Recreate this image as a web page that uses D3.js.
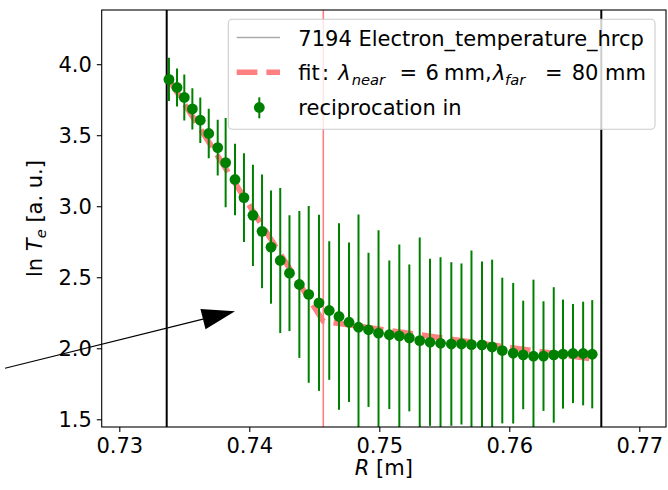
<!DOCTYPE html>
<html>
<head>
<meta charset="utf-8">
<script src="https://cdn.jsdelivr.net/npm/d3@7"></script>
<style>
  body { margin: 0; background: #fff; }
  svg { display: block; font-family: "DejaVu Sans", sans-serif; }
</style>
</head>
<body>
<div id="chart"></div>
<script>
// measured major radius [m] of each reciprocation sample
const radius = [
  0.73382, 0.73444, 0.73500, 0.73562, 0.73623, 0.73688, 0.73757, 0.73818, 0.73890, 0.73959,
  0.74028, 0.74098, 0.74167, 0.74238, 0.74309, 0.74385, 0.74457, 0.74536, 0.74615, 0.74690,
  0.74767, 0.74840, 0.74917, 0.74994, 0.75077, 0.75154, 0.75231, 0.75311, 0.75390, 0.75471,
  0.75554, 0.75632, 0.75709, 0.75790, 0.75868, 0.75946, 0.76030, 0.76107, 0.76186, 0.76263,
  0.76342, 0.76413, 0.76490, 0.76568, 0.76638,
];
// ln Te [a.u.]
const lnTe = [
  3.893, 3.836, 3.766, 3.685, 3.606, 3.512, 3.413, 3.307, 3.188, 3.061,
  2.936, 2.823, 2.712, 2.618, 2.529, 2.449, 2.379, 2.320, 2.266, 2.224,
  2.183, 2.148, 2.130, 2.106, 2.095, 2.087, 2.073, 2.054, 2.042, 2.035,
  2.030, 2.030, 2.026, 2.024, 2.009, 1.984, 1.965, 1.953, 1.944, 1.945,
  1.953, 1.959, 1.963, 1.963, 1.958,
];
// symmetric error bar half-length
const lnTeErr = [
  0.153, 0.134, 0.162, 0.145, 0.160, 0.174, 0.196, 0.315, 0.251, 0.312,
  0.356, 0.400, 0.398, 0.511, 0.408, 0.517, 0.622, 0.620, 0.488, 0.657,
  0.561, 0.793, 0.543, 0.724, 0.523, 0.644, 0.517, 0.726, 0.588, 0.606,
  0.576, 0.567, 0.663, 0.587, 0.615, 0.513, 0.495, 0.382, 0.539, 0.386,
  0.477, 0.384, 0.349, 0.365, 0.381,
];

// two-slope fit (near / far SOL), kink at the separatrix
const fitR = [0.73382, 0.74569, 0.76638];
const fitLnTe = [3.891, 2.190, 1.925];

// vertical markers
const limitLines = [0.733646, 0.767077];
const separatrix = 0.745692;

// annotation arrow (tail, tip) in data coords
const arrowTail = [0.721208, 1.859];
const arrowTip = [0.7389, 2.261];

const xTicks = [0.73, 0.74, 0.75, 0.76, 0.77];
const yTicks = [1.5, 2.0, 2.5, 3.0, 3.5, 4.0];
const xDomain = [0.728646, 0.772054];
const yDomain = [1.4457, 4.3815];

class ProfilePlot {
  constructor(_config) {
    this.config = {
      parentElement: _config.parentElement,
      containerWidth: 668,
      containerHeight: 490,
      margin: { top: 10, right: 2, bottom: 63, left: 101.7 },
      fontSize: 21,
      subSize: 14.7,
    };
    this.initVis();
  }

  initVis() {
    let vis = this;
    const cfg = vis.config;
    vis.width = cfg.containerWidth - cfg.margin.left - cfg.margin.right;
    vis.height = cfg.containerHeight - cfg.margin.top - cfg.margin.bottom;

    vis.svg = d3.select(cfg.parentElement).append("svg")
      .attr("width", cfg.containerWidth)
      .attr("height", cfg.containerHeight);

    vis.xScale = d3.scaleLinear().domain(xDomain).range([0, vis.width]);
    vis.yScale = d3.scaleLinear().domain(yDomain).range([vis.height, 0]);

    vis.chartArea = vis.svg.append("g")
      .attr("transform", `translate(${cfg.margin.left},${cfg.margin.top})`);

    vis.chartArea.append("defs").append("clipPath")
      .attr("id", "plot-clip")
      .append("rect")
      .attr("width", vis.width)
      .attr("height", vis.height);

    vis.chart = vis.chartArea.append("g").attr("clip-path", "url(#plot-clip)");

    vis.renderVis();
  }

  renderVis() {
    let vis = this;
    const cfg = vis.config;
    const x = vis.xScale, y = vis.yScale;

    // black limit lines and separatrix
    vis.chart.selectAll(".limit")
      .data(limitLines)
      .join("line")
      .attr("class", "limit")
      .attr("x1", d => x(d)).attr("x2", d => x(d))
      .attr("y1", 0).attr("y2", vis.height)
      .attr("stroke", "#000")
      .attr("stroke-width", 2);

    vis.chart.append("line")
      .attr("x1", x(separatrix)).attr("x2", x(separatrix))
      .attr("y1", 0).attr("y2", vis.height)
      .attr("stroke", "#ff8080")
      .attr("stroke-width", 1.6);

    // fit
    const fitData = fitR.map((r, i) => [r, fitLnTe[i]]);
    vis.chart.append("path")
      .datum(fitData)
      .attr("fill", "none")
      .attr("stroke", "#ff8080")
      .attr("stroke-width", 5.6)
      .attr("stroke-dasharray", "20.7,9")
      .attr("d", d3.line().x(d => x(d[0])).y(d => y(d[1])));

    const pts = radius.map((r, i) => ({ r: r, v: lnTe[i], e: lnTeErr[i] }));

    vis.chart.selectAll(".errbar")
      .data(pts)
      .join("line")
      .attr("class", "errbar")
      .attr("x1", d => x(d.r)).attr("x2", d => x(d.r))
      .attr("y1", d => y(d.v + d.e)).attr("y2", d => y(d.v - d.e))
      .attr("stroke", "#008000")
      .attr("stroke-width", 2);

    vis.chart.selectAll(".pt")
      .data(pts)
      .join("circle")
      .attr("class", "pt")
      .attr("cx", d => x(d.r)).attr("cy", d => y(d.v))
      .attr("r", 5.4)
      .attr("fill", "#008000");

    // axes
    const xAxis = d3.axisBottom(x).tickValues(xTicks).tickFormat(d3.format(".2f"))
      .tickSize(4.9).tickPadding(5);
    const yAxis = d3.axisLeft(y).tickValues(yTicks).tickFormat(d3.format(".1f"))
      .tickSize(4.9).tickPadding(5);

    const xAxisG = vis.chartArea.append("g")
      .attr("transform", `translate(0,${vis.height})`)
      .call(xAxis);
    const yAxisG = vis.chartArea.append("g").call(yAxis);

    [xAxisG, yAxisG].forEach(g => {
      g.select(".domain").remove();
      g.selectAll(".tick line").attr("stroke", "#000").attr("stroke-width", 1.1);
      g.selectAll(".tick text")
        .attr("fill", "#000")
        .style("font-family", "DejaVu Sans")
        .style("font-size", cfg.fontSize + "px");
    });
    xAxisG.selectAll(".tick text").attr("dy", "0.76em");
    yAxisG.selectAll(".tick text").attr("dy", "0.36em");

    // frame
    vis.chartArea.append("rect")
      .attr("width", vis.width).attr("height", vis.height)
      .attr("fill", "none")
      .attr("stroke", "#000")
      .attr("stroke-width", 1.1);

    // axis labels
    const xl = vis.chartArea.append("text")
      .attr("x", vis.width / 2)
      .attr("y", vis.height + 48)
      .attr("text-anchor", "middle")
      .style("font-size", cfg.fontSize + "px");
    xl.append("tspan").style("font-style", "italic").text("R");
    xl.append("tspan").text(" [m]");

    const yl = vis.svg.append("text")
      .attr("transform", `translate(42,${cfg.margin.top + vis.height / 2}) rotate(-90)`)
      .attr("text-anchor", "middle")
      .style("font-size", cfg.fontSize + "px");
    yl.append("tspan").text("ln ");
    yl.append("tspan").style("font-style", "italic").text("T");
    yl.append("tspan").style("font-style", "italic").style("font-size", cfg.subSize + "px")
      .attr("dy", 4).text("e");
    yl.append("tspan").attr("dy", -4).text(" [a. u.]");

    vis.renderLegend();
    vis.renderArrow();
  }

  renderLegend() {
    let vis = this;
    const fs = vis.config.fontSize;
    const ss = vis.config.subSize;
    const lg = vis.svg.append("g");

    lg.append("rect")
      .attr("x", 228.3).attr("y", 19.3)
      .attr("width", 426.7).attr("height", 110)
      .attr("rx", 4)
      .attr("fill", "#fff").attr("fill-opacity", 0.8)
      .attr("stroke", "#cccccc").attr("stroke-width", 1.1);

    // row 1: grey line
    lg.append("line")
      .attr("x1", 236.7).attr("x2", 280).attr("y1", 37.5).attr("y2", 37.5)
      .attr("stroke", "#aaaaaa").attr("stroke-width", 1.5);
    lg.append("text")
      .attr("x", 298.3).attr("y", 45.5)
      .style("font-size", fs + "px")
      .text("7194 Electron_temperature_hrcp");

    // row 2: fit
    lg.append("line")
      .attr("x1", 236.7).attr("x2", 280).attr("y1", 72.3).attr("y2", 72.3)
      .attr("stroke", "#ff8080").attr("stroke-width", 5.6)
      .attr("stroke-dasharray", "20.7,9");
    const t2 = lg.append("text").attr("y", 80.3).style("font-size", fs + "px");
    const parts = [
      { x: 298.3, t: "fit" },
      { x: 322, t: ":" },
      { x: 338.3, t: "λ", it: true },
      { x: 351.7, t: "near", it: true, sub: true },
      { x: 399.5, t: "=" },
      { x: 425.5, t: "6" },
      { x: 444, t: "mm," },
      { x: 493, t: "λ", it: true },
      { x: 505, t: "far", it: true, sub: true },
      { x: 545, t: "=" },
      { x: 571.7, t: "80 mm" },
    ];
    parts.forEach(p => {
      t2.append("tspan")
        .attr("x", p.x)
        .attr("y", p.sub ? 84.5 : 80.3)
        .style("font-style", p.it ? "italic" : "normal")
        .style("font-size", p.sub ? ss + "px" : fs + "px")
        .text(p.t);
    });

    // row 3: errorbar marker
    lg.append("line")
      .attr("x1", 259.3).attr("x2", 259.3).attr("y1", 97.3).attr("y2", 118.3)
      .attr("stroke", "#008000").attr("stroke-width", 2);
    lg.append("circle")
      .attr("cx", 259.3).attr("cy", 107.5).attr("r", 5.4)
      .attr("fill", "#008000");
    lg.append("text")
      .attr("x", 298.3).attr("y", 115)
      .style("font-size", fs + "px")
      .text("reciprocation in");
  }

  renderArrow() {
    let vis = this;
    const m = vis.config.margin;
    const x = vis.xScale, y = vis.yScale;
    const tx = m.left + x(arrowTail[0]), ty = m.top + y(arrowTail[1]);
    const hx = m.left + x(arrowTip[0]), hy = m.top + y(arrowTip[1]);
    const len = Math.hypot(hx - tx, hy - ty);
    const ux = (hx - tx) / len, uy = (hy - ty) / len;
    const nx = -uy, ny = ux;
    const headLen = 33, headHalf = 10.5;
    const bx = hx - headLen * ux, by = hy - headLen * uy;

    vis.svg.append("line")
      .attr("x1", tx).attr("y1", ty).attr("x2", bx).attr("y2", by)
      .attr("stroke", "#000").attr("stroke-width", 1.1);
    vis.svg.append("path")
      .attr("d", `M${hx},${hy}L${bx + headHalf * nx},${by + headHalf * ny}L${bx - headHalf * nx},${by - headHalf * ny}Z`)
      .attr("fill", "#000");
  }
}

new ProfilePlot({ parentElement: "#chart" });
</script>
</body>
</html>
